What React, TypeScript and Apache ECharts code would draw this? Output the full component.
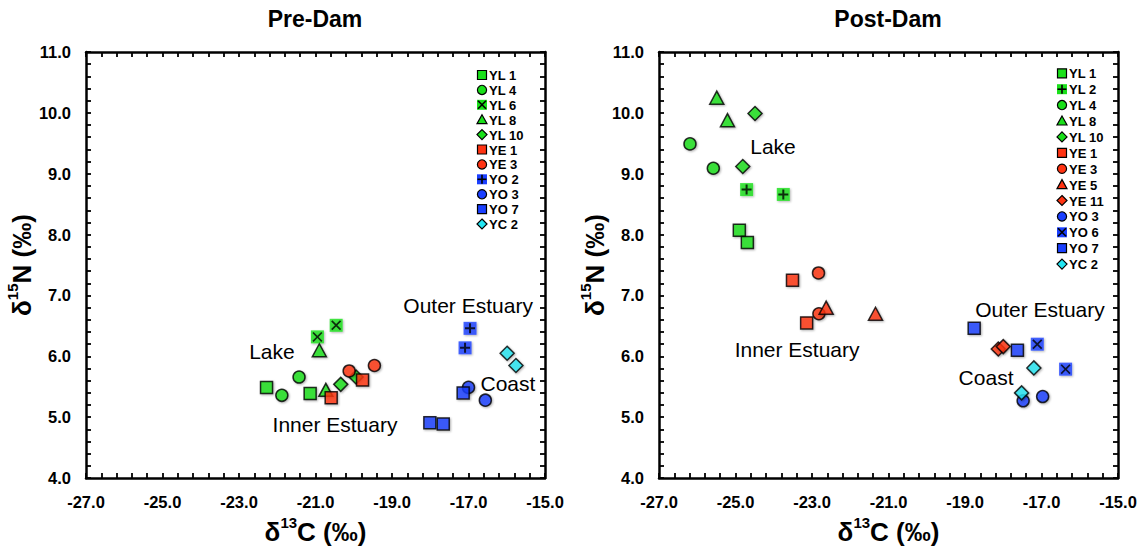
import React, { useEffect, useRef } from "react";
import * as echarts from "echarts";

const GREEN = "#1ae01a";
const RED = "#ff3312";
const BLUE = "#1a3fff";
const CYAN = "#24e6f2";

// x tick range / y tick range
const X_MIN = -27, X_MAX = -15, X_STEP = 2;
const Y_MIN = 4, Y_MAX = 11, Y_STEP = 1;

// ---------- Pre-Dam data [δ13C, δ15N] ----------
const preYL1 = [[-22.28, 5.49], [-21.14, 5.39]];
const preYL4 = [[-21.43, 5.66], [-21.88, 5.36]];
const preYL6 = [[-20.46, 6.51], [-20.95, 6.32]];
const preYL8 = [[-20.90, 6.10], [-20.73, 5.45]];
const preYL10 = [[-20.34, 5.54], [-19.94, 5.66]];
const preYE1 = [[-20.59, 5.32], [-19.77, 5.61]];
const preYE3 = [[-20.12, 5.76], [-19.46, 5.85]];
const preYO2 = [[-16.96, 6.46], [-17.09, 6.14]];
const preYO3 = [[-17.00, 5.49], [-16.56, 5.28]];
const preYO7 = [[-17.14, 5.40], [-18.01, 4.91], [-17.66, 4.89]];
const preYC2 = [[-15.99, 6.05], [-15.76, 5.85]];

// ---------- Post-Dam data ----------
const postYL1 = [[-24.90, 8.07], [-24.69, 7.87]];
const postYL2 = [[-24.71, 8.74], [-23.75, 8.66]];
const postYL4 = [[-26.19, 9.49], [-25.58, 9.09]];
const postYL8 = [[-25.49, 10.25], [-25.21, 9.88]];
const postYL10 = [[-24.49, 9.99], [-24.81, 9.12]];
const postYE1 = [[-23.51, 7.25], [-23.14, 6.55]];
const postYE3 = [[-22.83, 7.37], [-22.82, 6.70]];
const postYE5 = [[-22.63, 6.80], [-21.34, 6.70]];
const postYE11 = [[-18.13, 6.12], [-18.00, 6.16]];
const postYO3 = [[-17.48, 5.27], [-16.97, 5.34]];
const postYO6 = [[-17.11, 6.20], [-16.37, 5.79]];
const postYO7 = [[-18.76, 6.46], [-17.63, 6.10]];
const postYC2 = [[-17.20, 5.81], [-17.52, 5.40]];

// ---------- annotations ----------
const noteText = ["Lake", "Inner Estuary", "Outer Estuary", "Coast"];
const preNoteX = [-22.14, -20.49, -17.01, -15.97];
const preNoteY = [6.08, 4.88, 6.83, 5.55];
const postNoteX = [-24.02, -23.39, -17.04, -18.45];
const postNoteY = [9.44, 6.12, 6.77, 5.66];

type Shape = "square" | "circle" | "xsquare" | "plussquare" | "triangle" | "diamond";
interface SDef { name: string; shape: Shape; color: string; data: number[][] }

const preSeries: SDef[] = [
  { name: "YL 1", shape: "square", color: GREEN, data: preYL1 },
  { name: "YL 4", shape: "circle", color: GREEN, data: preYL4 },
  { name: "YL 6", shape: "xsquare", color: GREEN, data: preYL6 },
  { name: "YL 8", shape: "triangle", color: GREEN, data: preYL8 },
  { name: "YL 10", shape: "diamond", color: GREEN, data: preYL10 },
  { name: "YE 1", shape: "square", color: RED, data: preYE1 },
  { name: "YE 3", shape: "circle", color: RED, data: preYE3 },
  { name: "YO 2", shape: "plussquare", color: BLUE, data: preYO2 },
  { name: "YO 3", shape: "circle", color: BLUE, data: preYO3 },
  { name: "YO 7", shape: "square", color: BLUE, data: preYO7 },
  { name: "YC 2", shape: "diamond", color: CYAN, data: preYC2 },
];

const postSeries: SDef[] = [
  { name: "YL 1", shape: "square", color: GREEN, data: postYL1 },
  { name: "YL 2", shape: "plussquare", color: GREEN, data: postYL2 },
  { name: "YL 4", shape: "circle", color: GREEN, data: postYL4 },
  { name: "YL 8", shape: "triangle", color: GREEN, data: postYL8 },
  { name: "YL 10", shape: "diamond", color: GREEN, data: postYL10 },
  { name: "YE 1", shape: "square", color: RED, data: postYE1 },
  { name: "YE 3", shape: "circle", color: RED, data: postYE3 },
  { name: "YE 5", shape: "triangle", color: RED, data: postYE5 },
  { name: "YE 11", shape: "diamond", color: RED, data: postYE11 },
  { name: "YO 3", shape: "circle", color: BLUE, data: postYO3 },
  { name: "YO 6", shape: "xsquare", color: BLUE, data: postYO6 },
  { name: "YO 7", shape: "square", color: BLUE, data: postYO7 },
  { name: "YC 2", shape: "diamond", color: CYAN, data: postYC2 },
];

const FONT = "Arial, 'Liberation Sans', Helvetica, sans-serif";
const DIAMOND = "path://M0,5L5,0L10,5L5,10Z";
const XMARK = "path://M0,1.2L1.2,0L5,3.8L8.8,0L10,1.2L6.2,5L10,8.8L8.8,10L5,6.2L1.2,10L0,8.8L3.8,5Z";
const PLUS = "path://M4,0H6V4H10V6H6V10H4V6H0V4H4Z";

const shadow = {
  shadowBlur: 2,
  shadowColor: "rgba(0,0,0,0.35)",
  shadowOffsetX: 1,
  shadowOffsetY: 1,
};

function buildSeries(defs: SDef[], axis: number): any[] {
  const out: any[] = [];
  defs.forEach((d) => {
    const base: any = {
      type: "scatter",
      name: d.name,
      xAxisIndex: axis,
      yAxisIndex: axis,
      data: d.data,
      z: 3,
      itemStyle: { color: d.color, borderColor: "#000", borderWidth: 1.5, ...shadow },
    };
    if (d.shape === "square") { base.symbol = "rect"; base.symbolSize = 12; }
    if (d.shape === "circle") { base.symbol = "circle"; base.symbolSize = 12; }
    if (d.shape === "triangle") { base.symbol = "triangle"; base.symbolSize = [14, 13]; }
    if (d.shape === "diamond") { base.symbol = DIAMOND; base.symbolSize = 14; }
    if (d.shape === "xsquare" || d.shape === "plussquare") {
      base.symbol = "rect";
      base.symbolSize = 13;
      base.itemStyle = { color: d.color, borderWidth: 0, ...shadow };
    }
    out.push(base);
    if (d.shape === "xsquare" || d.shape === "plussquare") {
      out.push({
        type: "scatter",
        name: d.name + " mark",
        xAxisIndex: axis,
        yAxisIndex: axis,
        data: d.data,
        z: 4,
        symbol: d.shape === "xsquare" ? XMARK : PLUS,
        symbolSize: 10,
        itemStyle: { color: "#000", borderWidth: 0 },
      });
    }
  });
  return out;
}

function noteSeries(xs: number[], ys: number[], axis: number): any {
  return {
    type: "scatter",
    name: "notes",
    xAxisIndex: axis,
    yAxisIndex: axis,
    symbol: "circle",
    symbolSize: 0,
    itemStyle: { color: "#fff", opacity: 1 },
    silent: true,
    z: 5,
    data: xs.map((x, i) => [x, ys[i], noteText[i]]),
    label: {
      show: true,
      position: [0, 0],
      align: "center",
      verticalAlign: "middle",
      formatter: (p: any) => p.value[2],
      fontFamily: FONT,
      fontSize: 21,
      color: "#000",
      opacity: 1,
      textBorderWidth: 0,
    },
  };
}

function legendGraphics(defs: SDef[], cx: number, cy0: number, step: number): any[] {
  const els: any[] = [];
  defs.forEach((d, i) => {
    const cy = cy0 + i * step;
    const stroke = { stroke: "#000", lineWidth: 1.2 };
    if (d.shape === "square") {
      els.push({ type: "rect", shape: { x: cx - 4.5, y: cy - 4.5, width: 9, height: 9 }, style: { fill: d.color, ...stroke } });
    } else if (d.shape === "circle") {
      els.push({ type: "circle", shape: { cx, cy, r: 4.6 }, style: { fill: d.color, ...stroke } });
    } else if (d.shape === "triangle") {
      els.push({ type: "polygon", shape: { points: [[cx, cy - 5], [cx + 5, cy + 4], [cx - 5, cy + 4]] }, style: { fill: d.color, ...stroke } });
    } else if (d.shape === "diamond") {
      els.push({ type: "polygon", shape: { points: [[cx, cy - 5], [cx + 5, cy], [cx, cy + 5], [cx - 5, cy]] }, style: { fill: d.color, ...stroke } });
    } else {
      els.push({ type: "rect", shape: { x: cx - 5, y: cy - 5, width: 10, height: 10 }, style: { fill: d.color } });
      const ls = { stroke: "#000", lineWidth: 1.6 };
      if (d.shape === "xsquare") {
        els.push({ type: "line", shape: { x1: cx - 4, y1: cy - 4, x2: cx + 4, y2: cy + 4 }, style: ls });
        els.push({ type: "line", shape: { x1: cx + 4, y1: cy - 4, x2: cx - 4, y2: cy + 4 }, style: ls });
      } else {
        els.push({ type: "line", shape: { x1: cx, y1: cy - 4.5, x2: cx, y2: cy + 4.5 }, style: ls });
        els.push({ type: "line", shape: { x1: cx - 4.5, y1: cy, x2: cx + 4.5, y2: cy }, style: ls });
      }
    }
    els.push({
      type: "text",
      x: cx + 7,
      y: cy + 0.5,
      style: { text: d.name, font: `bold 13px ${FONT}`, fill: "#000", align: "left", verticalAlign: "middle" },
    });
  });
  return els;
}

const axisLineStyle = { lineStyle: { color: "#000", width: 2.5 } };
const tickStyle = { show: true, inside: true, length: 5, lineStyle: { color: "#000", width: 1.8 } };
const minorTickStyle = { show: true, splitNumber: 5, length: 5, lineStyle: { color: "#000", width: 1.8 } };
const labelStyle = { fontFamily: FONT, fontSize: 16.5, fontWeight: "bold", color: "#000" };
const nameStyle = {
  fontFamily: FONT,
  fontSize: 26,
  fontWeight: "bold",
  color: "#000",
  rich: {
    b: { fontFamily: FONT, fontSize: 26, fontWeight: "bold", color: "#000", lineHeight: 30, verticalAlign: "bottom" },
    s: { fontFamily: FONT, fontSize: 15, fontWeight: "bold", color: "#000", lineHeight: 30, verticalAlign: "top" },
  },
};

function xAxes(grid: number): any[] {
  const common = {
    type: "value",
    gridIndex: grid,
    min: X_MIN,
    max: X_MAX,
    interval: X_STEP,
    splitLine: { show: false },
    axisLine: { show: true, onZero: false, ...axisLineStyle },
    axisTick: tickStyle,
    minorTick: minorTickStyle,
  };
  return [
    {
      ...common,
      position: "bottom",
      axisLabel: { ...labelStyle, margin: 15, formatter: (v: number) => v.toFixed(1) },
      name: "{b|δ}{s|13}{b|C (‰)}",
      nameLocation: "middle",
      nameGap: 36,
      nameTextStyle: nameStyle,
    },
    { ...common, position: "top", axisLabel: { show: false } },
  ];
}

function yAxes(grid: number): any[] {
  const common = {
    type: "value",
    gridIndex: grid,
    min: Y_MIN,
    max: Y_MAX,
    interval: Y_STEP,
    splitLine: { show: false },
    axisLine: { show: true, onZero: false, ...axisLineStyle },
    axisTick: tickStyle,
    minorTick: minorTickStyle,
  };
  return [
    {
      ...common,
      position: "left",
      axisLabel: { ...labelStyle, margin: 15, formatter: (v: number) => v.toFixed(1) },
      name: "{b|δ}{s|15}{b|N (‰)}",
      nameLocation: "middle",
      nameGap: 45,
      nameRotate: 90,
      nameTextStyle: nameStyle,
    },
    { ...common, position: "right", axisLabel: { show: false } },
  ];
}

export default function App() {
  const ref = useRef<HTMLDivElement>(null);
  useEffect(() => {
    if (!ref.current) return;
    const chart = echarts.init(ref.current, undefined, { renderer: "svg" });
    const option: any = {
      animation: false,
      backgroundColor: "#fff",
      grid: [
        { left: 86, top: 52, width: 459, height: 430 },
        { left: 659, top: 52, width: 459, height: 430 },
      ],
      xAxis: [...xAxes(0), ...xAxes(1)],
      yAxis: [...yAxes(0), ...yAxes(1)],
      series: [
        ...buildSeries(preSeries, 0),
        noteSeries(preNoteX, preNoteY, 0),
        ...buildSeries(postSeries, 2),
        noteSeries(postNoteX, postNoteY, 2),
      ],
      graphic: [
        {
          type: "text",
          x: 315,
          y: 19,
          style: { text: "Pre-Dam", font: `bold 23px ${FONT}`, fill: "#000", align: "center", verticalAlign: "middle" },
        },
        {
          type: "text",
          x: 888,
          y: 19,
          style: { text: "Post-Dam", font: `bold 23px ${FONT}`, fill: "#000", align: "center", verticalAlign: "middle" },
        },
        ...legendGraphics(preSeries, 482, 75, 14.9),
        ...legendGraphics(postSeries, 1062, 73.3, 15.9),
      ],
    };
    chart.setOption(option);
    return () => chart.dispose();
  }, []);
  return (
    <div
      ref={ref}
      style={{ position: "fixed", left: 0, top: 0, width: 1144, height: 550, background: "#fff" }}
    />
  );
}
